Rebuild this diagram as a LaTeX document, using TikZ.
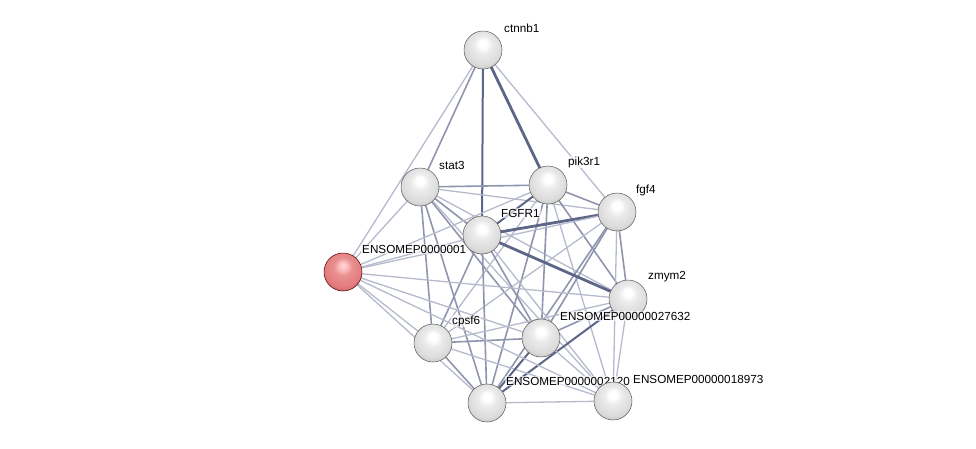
\documentclass[tikz,border=0pt]{standalone}
\usepackage{fontspec}
\setmainfont{Liberation Sans}
\definecolor{elight}{HTML}{B6BACD}
\definecolor{emed}{HTML}{9095AE}
\definecolor{edark}{HTML}{5E6688}
\definecolor{redball}{HTML}{E47C7E}
\pgfdeclareradialshading{sphere}{\pgfpoint{0bp}{9bp}}{color(0bp)=(white); color(5bp)=(white); color(12bp)=(gray!16); color(24bp)=(gray!28); color(31bp)=(gray!45); color(34bp)=(gray!68); color(50bp)=(gray!68)}
\pgfdeclareradialshading{redsphere}{\pgfpoint{0bp}{9bp}}{color(0bp)=(red!15!white); color(5bp)=(red!25!white); color(12bp)=(redball!85!white); color(24bp)=(redball); color(31bp)=(redball!80!black); color(34bp)=(redball!50!black); color(50bp)=(redball!50!black)}
\begin{document}
\begin{tikzpicture}[x=1pt,y=-1pt,
  prot/.style={circle,minimum size=38pt,inner sep=0pt,shading=sphere,draw=gray!70!black,line width=0.5pt},
  redprot/.style={prot,shading=redsphere,draw=red!35!black},
  lab/.style={anchor=west,font=\fontsize{11.7}{13}\selectfont,inner sep=1pt,fill=white,fill opacity=0.6,text opacity=1},
  thin/.style={elight,line width=1.3pt},
  med/.style={emed,line width=1.6pt},
  thick/.style={edark,line width=2.8pt},
  mthick/.style={edark,line width=2.0pt}]
\useasboundingbox (0,0) rectangle (976,448);
\coordinate (C) at (483,50);
\coordinate (S) at (420,187);
\coordinate (P) at (548,185);
\coordinate (F4) at (617,212);
\coordinate (R) at (482,235);
\coordinate (E) at (343,272);
\coordinate (Z) at (628,299);
\coordinate (CP) at (433,343);
\coordinate (A) at (541,338);
\coordinate (B) at (487,403);
\coordinate (D) at (613,401);
% edges
\draw[thin] (C) -- (F4);
\draw[thin] (C) -- (E);
\draw[med] (C) -- (S);
\draw[mthick] (C) -- (R);
\draw[thick] (C) -- (P);
\draw[med] (S) -- (P);
\draw[med] (S) -- (R);
\draw[thin] (S) -- (E);
\draw[med] (S) -- (CP);
\draw[med] (S) -- (B);
\draw[med] (S) -- (A);
\draw[thin] (S) -- (F4);
\draw[thin] (S) -- (Z);
\draw[thin] (S) -- (D);
\draw[mthick] (P) -- (R);
\draw[med] (P) -- (F4);
\draw[med] (P) -- (Z);
\draw[med] (P) -- (A);
\draw[med] (P) -- (B);
\draw[thin] (P) -- (CP);
\draw[thin] (P) -- (D);
\draw[thin] (P) -- (E);
\draw[thick] (F4) -- (R);
\draw[med] (F4) -- (Z);
\draw[med] (F4) -- (A);
\draw[med] (F4) -- (B);
\draw[thin] (F4) -- (D);
\draw[thin] (F4) -- (CP);
\draw[thin] (F4) -- (E);
\draw[thick] (R) -- (Z);
\draw[med] (R) -- (A);
\draw[med] (R) -- (B);
\draw[med] (R) -- (CP);
\draw[thin] (R) -- (D);
\draw[thin] (R) -- (E);
\draw[med] (Z) -- (A);
\draw[mthick] (Z) -- (B);
\draw[thin] (Z) -- (D);
\draw[thin] (Z) -- (CP);
\draw[thin] (Z) -- (E);
\draw[med] (CP) -- (A);
\draw[med] (CP) -- (B);
\draw[thin] (CP) -- (D);
\draw[thin] (CP) -- (E);
\draw[mthick] (A) -- (B);
\draw[thin] (A) -- (D);
\draw[thin] (A) -- (E);
\draw[thin] (B) -- (D);
\draw[thin] (B) -- (E);
\draw[thin] (D) -- (E);
% nodes and labels
\node[prot] (nC) at (C) {};
\node[lab] (lC) at (503,28) {ctnnb1};
\node[prot] (nS) at (S) {};
\node[lab] (lS) at (438,165) {stat3};
\node[prot] (nP) at (P) {};
\node[lab] (lP) at (567,162) {pik3r1};
\node[prot] (nF4) at (F4) {};
\node[lab] (lF4) at (635,190) {fgf4};
\node[redprot] (nE) at (E) {};
\node[lab] (lE) at (361,249) {ENSOMEP0000001};
\node[prot] (nR) at (R) {};
\node[lab] (lR) at (500,213) {FGFR1};
\node[prot] (nZ) at (Z) {};
\node[lab] (lZ) at (647,277) {zmym2};
\node[prot] (nA) at (A) {};
\node[lab] (lA) at (559,316) {ENSOMEP00000027632};
\node[prot] (nCP) at (CP) {};
\node[lab] (lCP) at (451,321) {cpsf6};
\node[prot] (nB) at (B) {};
\node[lab] (lB) at (505,381) {ENSOMEP0000002120};
\node[prot] (nD) at (D) {};
\node[lab] (lD) at (632,379) {ENSOMEP00000018973};
\end{tikzpicture}
\end{document}
